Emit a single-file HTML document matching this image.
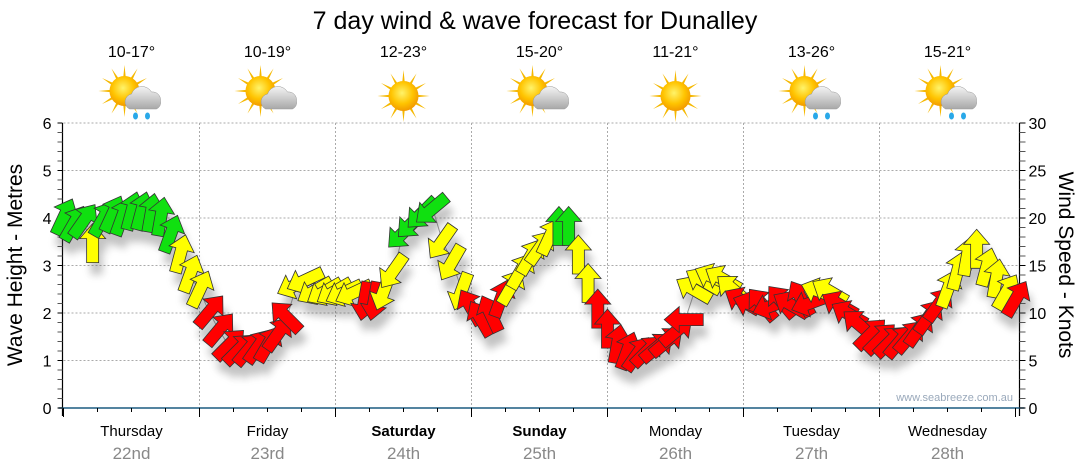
<!DOCTYPE html>
<html><head><meta charset="utf-8">
<style>
body{margin:0;background:#fff;width:1080px;height:475px;overflow:hidden;font-family:"Liberation Sans","DejaVu Sans",sans-serif}
svg{display:block}
</style></head>
<body>
<svg id="chart" width="1080" height="475" viewBox="0 0 1080 475" font-family="Liberation Sans, DejaVu Sans, sans-serif">
<defs>
<filter id="shadow" x="-50%" y="-50%" width="200%" height="200%"><feGaussianBlur stdDeviation="4"/></filter>
<radialGradient id="sunG" cx="0.45" cy="0.4" r="0.6"><stop offset="0" stop-color="#fff36a"/><stop offset="0.6" stop-color="#ffc400"/><stop offset="1" stop-color="#f29a00"/></radialGradient>
<linearGradient id="cloudG" x1="0" y1="0" x2="0" y2="1"><stop offset="0" stop-color="#f4f4f4"/><stop offset="1" stop-color="#a8a8a8"/></linearGradient>
</defs>
<text x="535" y="29" font-size="25" text-anchor="middle" fill="#000">7 day wind &amp; wave forecast for Dunalley</text>
<g id="header"></g>
<g id="grid"></g>
<g id="axes"></g>
<g id="series"></g>
<text x="1013" y="401" font-size="11" text-anchor="end" fill="#9aa9bb">www.seabreeze.com.au</text>
<text transform="translate(22,265) rotate(-90)" font-size="21" text-anchor="middle" fill="#000">Wave Height - Metres</text>
<text transform="translate(1059,265) rotate(90)" font-size="21" text-anchor="middle" fill="#000">Wind Speed - Knots</text>
</svg>
<script>
const days = ["Thursday","Friday","Saturday","Sunday","Monday","Tuesday","Wednesday"];
const dates = ["22nd","23rd","24th","25th","26th","27th","28th"];
const boldDays = [false,false,true,true,false,false,false];
const temps = ["10-17°","10-19°","12-23°","15-20°","11-21°","13-26°","15-21°"];
const icons = ["rain","cloud","sun","cloud","sun","rain","rain"];
const waveTicks = [0,1,2,3,4,5,6];
const windTicks = [0,5,10,15,20,25,30];
const windSpeed = [20,19.3,19.6,17.2,19.8,20.3,20,20.6,20.6,20.4,20,18.2,16.1,14,
 12.4,10.1,8.2,6.6,6.1,6.1,6.4,6.6,7.7,9.5,13,13.5,12.4,12.3,
 12.3,12.2,12.2,11.4,11.4,12.4,14.5,18.5,19.6,20.6,21,17.6,15.4,12.4,
 10.5,9.3,9.8,11.4,12.6,14.3,15.8,16.8,17.9,19,19,16,13,10.3,
 8.2,6.6,5.9,5.6,5.9,6.3,6.9,8,9.3,12.4,13.3,13.7,13.5,12.4,
 11.2,10.8,10.8,10.8,11.1,10.8,11.4,11.1,12.2,12.2,10.8,9.8,8.7,7.7,
 7.2,6.9,6.9,7.4,8.2,9.5,10.8,12.4,14.3,15.8,16.6,14.7,13.5,12.1,11.4];
const windDir = [25,30,35,0,30,25,20,15,15,10,10,20,15,20,
 25,40,40,45,45,40,35,30,35,315,245,245,240,240,
 240,245,245,190,190,200,215,225,225,225,230,215,210,200,
 330,330,335,20,30,30,30,35,25,0,0,0,0,0,
 0,10,20,35,45,50,50,50,270,300,300,295,300,310,
 300,290,320,250,320,300,330,250,290,300,300,300,310,45,
 45,45,40,40,35,35,35,20,15,10,0,15,10,30,30];
const thresholds = [12,18];

const NS="http://www.w3.org/2000/svg";
const X0=63.5, DW=136, Y0=408, YT=123, XR=1019.5;
const xScale = h => X0 + h*(DW/24);
const yWave = m => Y0 - m*(Y0-YT)/6;
const yWind = k => Y0 - k*(Y0-YT)/30;
function mk(tag, attrs, parent){const e=document.createElementNS(NS,tag);for(const k in attrs)e.setAttribute(k,attrs[k]);parent.appendChild(e);return e;}

const hdr=document.getElementById('header');
days.forEach((d,i)=>{
  const cx=X0+DW*(i+0.5);
  const t=mk('text',{x:cx,y:57,'font-size':16,'text-anchor':'middle',fill:'#000'},hdr);
  t.textContent=temps[i];
  
  
  const g=mk('g',{transform:`translate(${cx},96)`},hdr);
  
  
  const sx = icons[i]==='sun'?0:-7, sy = icons[i]==='sun'?0:-5;
  for(let a=0;a<360;a+=30){
    const r=a*Math.PI/180;
    mk('polygon',{points:`${sx+Math.cos(r-0.12)*12},${sy+Math.sin(r-0.12)*12} ${sx+Math.cos(r)*26},${sy+Math.sin(r)*26} ${sx+Math.cos(r+0.12)*12},${sy+Math.sin(r+0.12)*12}`,fill:'#f5b800'},g);
  }
  mk('circle',{cx:sx,cy:sy,r:15,fill:'url(#sunG)'},g);
  if(icons[i]!=='sun'){
    mk('path',{d:'M-2,13 a8,8 0 0 1 2,-15 a11,11 0 0 1 20,-2 a8,8 0 0 1 9,9 a7,7 0 0 1 -4,8 z',fill:'url(#cloudG)',stroke:'#999','stroke-width':0.5},g);
    if(icons[i]==='rain'){
      mk('ellipse',{cx:4,cy:20,rx:2.5,ry:3.5,fill:'#29a8e8'},g);
      mk('ellipse',{cx:16,cy:20,rx:2.5,ry:3.5,fill:'#29a8e8'},g);
    }
  }
});

const grid=document.getElementById('grid');
waveTicks.slice(1).forEach(v=>{
  const l=mk('line',{x1:X0,x2:XR,y1:yWave(v),y2:yWave(v),stroke:'#aaa','stroke-dasharray':'2,2','stroke-width':1},grid);
  
  
});
for(let i=1;i<7;i++){
  const l=mk('line',{x1:X0+DW*i,x2:X0+DW*i,y1:YT,y2:Y0,stroke:'#aaa','stroke-dasharray':'2,2','stroke-width':1},grid);
  
  
}

const ax=document.getElementById('axes');
mk('line',{x1:X0-1,x2:X0-1,y1:YT,y2:Y0+8,stroke:'#000','stroke-width':1.2},ax);
mk('line',{x1:XR,x2:XR,y1:YT,y2:Y0+8,stroke:'#000','stroke-width':1.2},ax);
mk('line',{x1:X0-5,x2:XR+5,y1:Y0,y2:Y0,stroke:'#1b5b80','stroke-width':1.5},ax);
for(let k=0;k<=30;k++){
  const m=k*0.2;
  mk('line',{x1:X0-6,x2:X0-1,y1:yWave(m),y2:yWave(m),stroke:k%5?'#555':'#000','stroke-width':1},ax);
  mk('line',{x1:XR,x2:XR+6,y1:yWind(k),y2:yWind(k),stroke:k%5?'#555':'#000','stroke-width':1},ax);
}
waveTicks.forEach(v=>{
  const t=mk('text',{x:X0-12,y:yWave(v)+6,'font-size':16,'text-anchor':'end',fill:'#000'},ax);
  t.textContent=v;
  
  
});
windTicks.forEach(v=>{
  const t=mk('text',{x:XR+9,y:yWind(v)+6,'font-size':16,fill:'#000'},ax);
  t.textContent=v;
  
  
});
for(let h=0;h<=168;h+=6){
  mk('line',{x1:xScale(h),x2:xScale(h),y1:Y0,y2:Y0+(h%24?4:9),stroke:'#000','stroke-width':1},ax);
}
days.forEach((d,i)=>{
  const cx=X0+DW*(i+0.5);
  const t=mk('text',{x:cx,y:436,'font-size':15,'text-anchor':'middle',fill:'#000','font-weight':boldDays[i]?'bold':'normal'},ax);
  t.textContent=d;
  
  
  const t2=mk('text',{x:cx,y:459,'font-size':17,'text-anchor':'middle',fill:'#888'},ax);
  t2.textContent=dates[i];
  
  
});

const ser=document.getElementById('series');
const step=168/(windSpeed.length-1);
const pts=windSpeed.map((v,i)=>[xScale(i*step),yWind(v)]);
const line=mk('polyline',{points:pts.map(p=>p.join(',')).join(' '),fill:'none',stroke:'#999','stroke-width':1},ser);


const arrowPath='M0,-21 L13,-6 L6,-6 L6,18 L-6,18 L-6,-6 L-13,-6 Z';
const shadowG=mk('g',{filter:'url(#shadow)',opacity:0.35},ser);
windSpeed.forEach((v,i)=>{
  const [x,y]=pts[i];
  mk('path',{d:arrowPath,fill:'#555',transform:`translate(${x+4},${y+12}) rotate(${windDir[i]})`},shadowG);
});
windSpeed.forEach((v,i)=>{
  const [x,y]=pts[i];
  const col = v>=thresholds[1]?'#10e010':(v>=thresholds[0]?'#ffff00':'#ff0000');
  const a=mk('path',{d:arrowPath,fill:col,stroke:'#333','stroke-width':0.8,transform:`translate(${x},${y}) rotate(${windDir[i]})`},ser);
  
  
});
</script>
</body></html>
